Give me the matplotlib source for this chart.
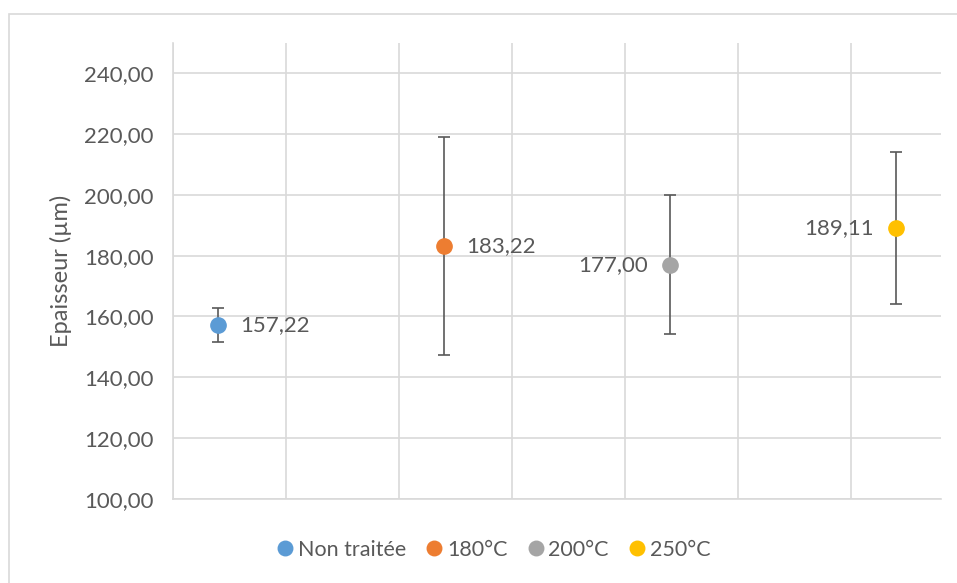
import matplotlib
matplotlib.use("Agg")
from matplotlib import pyplot as plt
from matplotlib.patches import Rectangle
from matplotlib.ticker import FixedLocator, FuncFormatter

# data
series = ["Non traitée", "180°C", "200°C", "250°C"]
x_pos = [0.4, 2.4, 4.4, 6.4]
thickness = [157.22, 183.22, 177.00, 189.11]
err = [5.6, 35.9, 22.9, 25.0]
label_side = ["right", "right", "left", "left"]
colors = ["#5B9BD5", "#ED7D31", "#A5A5A5", "#FFC000"]

TEXT = "#595959"
GRID = "#D9D9D9"
FONT = "Lato"
FS = 15.5

plt.rcParams["font.family"] = [FONT, "DejaVu Sans"]

W, H = 957, 583
fig = plt.figure(figsize=(W / 100, H / 100), dpi=100)
fig.patches.append(Rectangle((9 / W, -0.1), 1.1, (H - 14) / H + 0.1,
                             transform=fig.transFigure, fill=False,
                             edgecolor=GRID, linewidth=1.2))

ax = fig.add_axes([173 / W, 1 - 498.7 / H, (941 - 173) / W, (498.7 - 43) / H])
ax.set_xlim(0, 6.8)
ax.set_ylim(100, 250)
ax.xaxis.set_major_locator(FixedLocator(range(0, 7)))
ax.yaxis.set_major_locator(FixedLocator(range(100, 241, 20)))
ax.yaxis.set_major_formatter(FuncFormatter(lambda v, _: f"{v:.2f}".replace(".", ",")))
ax.tick_params(axis="x", labelbottom=False, length=0)
ax.tick_params(axis="y", length=0, labelsize=FS + 0.5, labelcolor=TEXT, pad=14)
ax.grid(True, color=GRID, linewidth=1.2)
ax.set_axisbelow(True)
for s in ["top", "right"]:
    ax.spines[s].set_visible(False)
for s in ["left", "bottom"]:
    ax.spines[s].set_color(GRID)
    ax.spines[s].set_linewidth(1.2)

for name, x, y, e, side, c in zip(series, x_pos, thickness, err, label_side, colors):
    ax.errorbar(x, y, yerr=e, fmt="o", color=c, markersize=11,
                ecolor=TEXT, elinewidth=1.2, capsize=4.5, capthick=1.2,
                label=name, zorder=3)
    off = 16 if side == "right" else -16
    ax.annotate(f"{y:.2f}".replace(".", ","), (x, y), xytext=(off, 0),
                textcoords="offset points", ha="left" if side == "right" else "right",
                va="center", fontsize=FS + 0.5, color=TEXT)

ax.set_ylabel("Epaisseur (µm)", fontsize=FS + 1.5, color=TEXT)
ax.yaxis.set_label_coords(-0.132, 0.5)

handles, labels = ax.get_legend_handles_labels()
handles = [h[0] for h in handles]
fig.legend(handles, labels, loc="center", bbox_to_anchor=(494 / W, 1 - 550 / H),
           ncol=4, frameon=False, fontsize=FS, labelcolor=TEXT,
           handlelength=0.7, handletextpad=0.25, columnspacing=0.95,
           markerscale=0.95)

fig.savefig("out.png", dpi=100)
